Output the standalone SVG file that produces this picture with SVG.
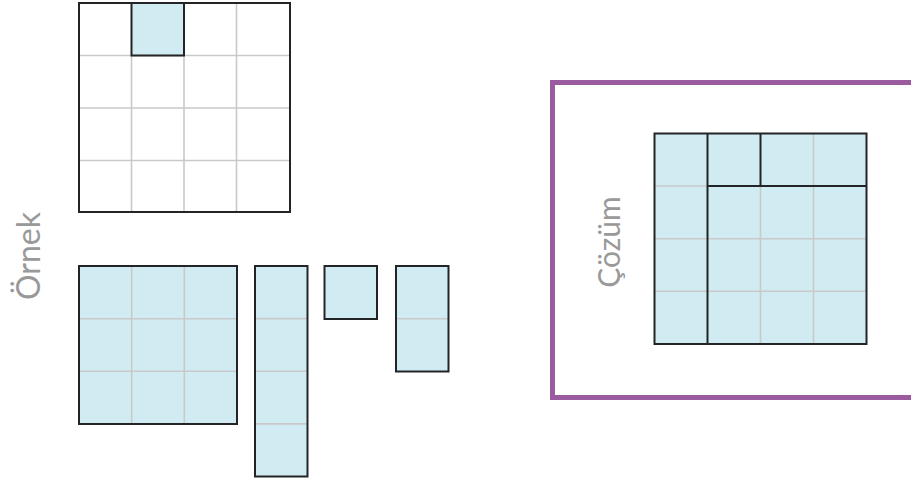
<svg xmlns="http://www.w3.org/2000/svg" width="911" height="482" viewBox="0 0 911 482">
  <style>
    .cell { fill: #d0ebf1; }
    .grid { stroke: #c9c9cc; stroke-width: 1.6; fill: none; }
    .edge { stroke: #222426; stroke-width: 2; fill: none; }
    .label { font-family: Lato, "Open Sans", sans-serif; font-weight: 400; font-size: 32px; fill: #999999; }
  </style>
  <rect width="911" height="482" fill="#ffffff"/>

  <g id="example-board">
    <rect x="131.5" y="3" width="52.5" height="52.5" class="cell"/>
    <path class="grid" d="M131.5 55.5V212M184 55.5V212M236.5 3V212M79 55.5H290M79 108H290M79 160.5H290M184 3V55.5"/>
    <rect x="131.5" y="3" width="52.5" height="52.5" class="edge"/>
    <rect x="79" y="3" width="211" height="209" class="edge"/>
  </g>

  <g id="piece-3x3">
    <rect x="79" y="266" width="158" height="158" class="cell"/>
    <path class="grid" d="M131.7 266V424M184.3 266V424M79 318.7H237M79 371.3H237"/>
    <rect x="79" y="266" width="158" height="158" class="edge"/>
  </g>

  <g id="piece-1x4">
    <rect x="255" y="266" width="52.5" height="210.5" class="cell"/>
    <path class="grid" d="M255 318.6H307.5M255 371.2H307.5M255 423.9H307.5"/>
    <rect x="255" y="266" width="52.5" height="210.5" class="edge"/>
  </g>

  <g id="piece-1x1">
    <rect x="324.5" y="266" width="52.5" height="53" class="cell"/>
    <rect x="324.5" y="266" width="52.5" height="53" class="edge"/>
  </g>

  <g id="piece-1x2">
    <rect x="396" y="266" width="52.5" height="105.5" class="cell"/>
    <path class="grid" d="M396 318.7H448.5"/>
    <rect x="396" y="266" width="52.5" height="105.5" class="edge"/>
  </g>

  <g id="label-ornek">
    <text class="label" transform="translate(40,256) rotate(-90)" text-anchor="middle" textLength="88" lengthAdjust="spacing">Örnek</text>
  </g>

  <g id="solution-frame">
    <rect x="552.5" y="82.5" width="380" height="315" fill="none" stroke="#9b5c9f" stroke-width="5"/>
  </g>

  <g id="label-cozum">
    <text class="label" transform="translate(620,242) rotate(-90)" text-anchor="middle" style="font-size:30px">Çözüm</text>
  </g>

  <g id="solution-board">
    <rect x="654.5" y="133.5" width="212" height="210.5" class="cell"/>
    <path class="grid" d="M654.5 186H707.5M654.5 238.7H866.5M654.5 291.3H866.5M760.5 186V344M813.5 133.5V344"/>
    <path class="edge" d="M707.5 133.5V344M707.5 186H866.5M760.5 133.5V186"/>
    <rect x="654.5" y="133.5" width="212" height="210.5" class="edge"/>
  </g>
</svg>
